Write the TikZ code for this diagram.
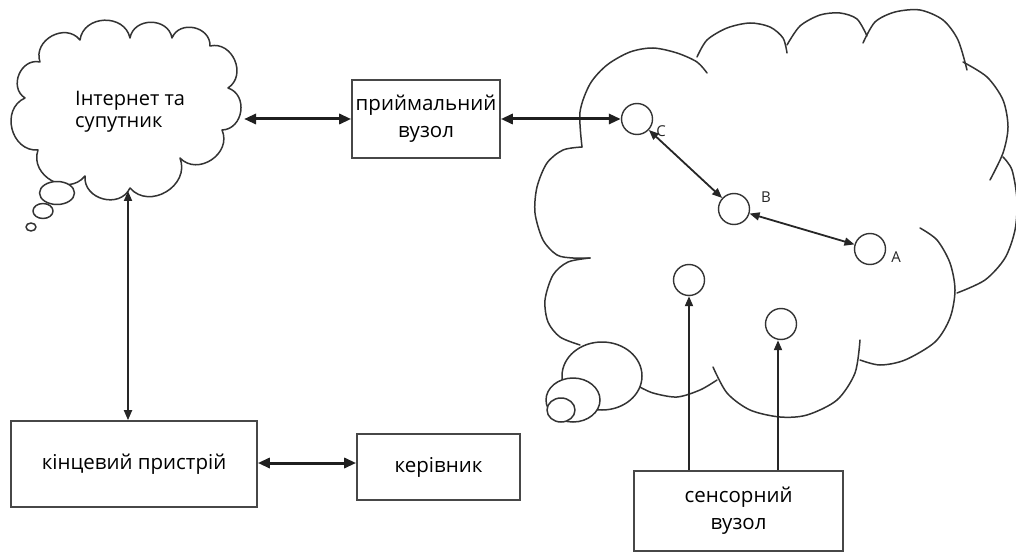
\documentclass[tikz,border=0pt]{standalone}
\usepackage{fontspec}
\setmainfont{Open Sans}
\usetikzlibrary{arrows.meta}
\begin{document}
\begin{tikzpicture}[x=1pt,y=-1pt,
  cloudline/.style={draw=black!80, line width=1.5pt, line join=round, line cap=round},
  lobe/.style={bend left=80, looseness=1.3},
  box/.style={draw=black!72, line width=1.6pt, fill=white, inner sep=0pt, align=center,
              font=\fontsize{20.5}{27}\selectfont},
  mote/.style={circle, draw=black!80, line width=1.4pt, minimum size=31pt, inner sep=0pt},
  lbl/.style={inner sep=0pt, font=\fontsize{15}{17}\selectfont, text=black!85},
  bigarrow/.style={draw=black!88, line width=3pt,
                   {Triangle[length=12pt,width=10pt]}-{Triangle[length=12pt,width=10pt]}},
  thinboth/.style={draw=black!85, line width=1.8pt,
                   {Triangle[length=10pt,width=8pt]}-{Triangle[length=10pt,width=8pt]}},
  thinone/.style={draw=black!85, line width=1.9pt, -{Triangle[length=10pt,width=8pt]}}
]
\useasboundingbox (0,0) rectangle (1016,553);

% ---- left cloud: internet & satellite ----
\draw[cloudline, fill=white] (40,62) to[lobe] (80,40) to[lobe] (130,38) to[lobe] (172,38)
  to[lobe] (210,46) to[lobe] (228,88) to[lobe] (222,130) to[lobe] (180,158)
  to[lobe] (130,188) to[lobe] (85,176) to[lobe] (38,150) to[lobe] (25,98) to[lobe] (40,62);
\draw[cloudline, fill=white] (57,193) ellipse [x radius=17.5, y radius=11.5];
\draw[cloudline, fill=white] (43,211) ellipse [x radius=10, y radius=7.5];
\draw[cloudline, fill=white] (31,227) ellipse [x radius=5, y radius=4];
\node[anchor=west, inner sep=0pt, align=left, font=\fontsize{20}{22}\selectfont] (inet)
  at (75,112) {Інтернет та\\супутник};
\coordinate (cloudR) at (244,119);
\coordinate (cloudB) at (128,191);

% ---- right cloud: sensor field ----
\draw[cloudline] plot[smooth] coordinates {(582,147) (580,112) (590,84) (607,65) (630,52) (653,48) (677,53) (697,62) (707,73)};
\draw[cloudline] plot[smooth] coordinates {(697,57) (707,40) (727,28) (750,23) (770,27) (783,38) (787,53)};
\draw[cloudline] plot[smooth] coordinates {(787,45) (800,26) (820,15) (840,13) (857,19) (867,36)};
\draw[cloudline] plot[smooth] coordinates {(863,43) (875,22) (895,12) (920,10) (943,20) (958,40) (967,70)};
\draw[cloudline] plot[smooth] coordinates {(963,62) (987,77) (1003,100) (1008,127) (1003,153) (990,180)};
\draw[cloudline] plot[smooth] coordinates {(1003,157) (1012,170) (1017,200) (1015,230) (1005,258) (985,280) (957,293)};
\draw[cloudline] plot[smooth] coordinates {(920,228) (937,240) (950,263) (955,290) (950,318) (935,342) (905,360) (880,365) (860,360)};
\draw[cloudline] plot[smooth] coordinates {(860,340) (855,373) (837,400) (807,415) (780,417) (750,410) (727,393) (713,367)};
\draw[cloudline] plot[smooth] coordinates {(717,380) (700,390) (677,397) (653,393) (638,386)};
\draw[cloudline] plot[smooth] coordinates {(590,258) (568,262) (553,275) (545,300) (548,322) (560,337) (580,345)};
\draw[cloudline] plot[smooth] coordinates {(582,147) (563,150) (547,163) (537,187) (535,213) (543,240) (557,255) (573,258) (590,258)};
\draw[cloudline, fill=white] (602,376) ellipse [x radius=40, y radius=34];
\draw[cloudline, fill=white] (573,400) ellipse [x radius=27, y radius=22];
\draw[cloudline, fill=white] (561,410) ellipse [x radius=14, y radius=12];

% ---- sensor motes ----
\node[mote] (C) at (637,119) {};
\node[mote] (B) at (734,209) {};
\node[mote] (A) at (870,249) {};
\node[mote] (S1) at (689,280) {};
\node[mote] (S2) at (781,324) {};
\node[lbl] (labC) at (661,131) {C};
\node[lbl] (labB) at (766,197) {B};
\node[lbl] (labA) at (896,257) {A};

% ---- boxes ----
\node[box, minimum width=148pt, minimum height=78pt] (recv) at (426,119) {приймальний\\вузол};
\node[box, minimum width=246pt, minimum height=86pt] (term) at (134,464) {кінцевий пристрій};
\node[box, minimum width=163pt, minimum height=66pt] (boss) at (438.5,467) {керівник};
\node[box, minimum width=209pt, minimum height=80pt] (snode) at (738.5,511) {сенсорний\\вузол};

% ---- connectors ----
\draw[bigarrow] (cloudR) -- (recv.west |- cloudR);
\draw[bigarrow] (recv.east) -- (C.west);
\draw[bigarrow] (term.east |- 0,463) -- (boss.west |- 0,463);
\draw[thinboth] (cloudB) -- (term.north -| cloudB);
\draw[thinboth] (C) -- (B);
\draw[thinboth] (B) -- (A);
\draw[thinone] (snode.north -| S1) -- (S1.south);
\draw[thinone] (snode.north -| 778,0) -- (S2.south -| 778,0);
\end{tikzpicture}
\end{document}
